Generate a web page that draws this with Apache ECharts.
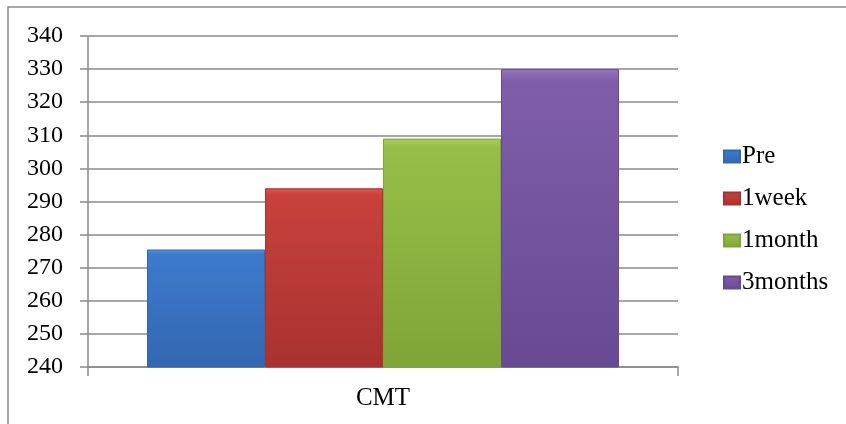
<!DOCTYPE html>
<html>
<head>
<meta charset="utf-8">
<script src="https://cdn.jsdelivr.net/npm/echarts@6/dist/echarts.min.js"></script>
<style>
  html, body { margin: 0; padding: 0; background: #fff; }
  #chart { width: 846px; height: 424px; }
</style>
</head>
<body>
<div id="chart"></div>
<script>
// data
const categories = ['CMT'];
const seriesNames = ['Pre', '1week', '1month', '3months'];
const preValues = [275.5];
const weekValues = [294];
const monthValues = [309];
const threeMonthValues = [330];
const yTicks = { min: 240, max: 340, step: 10 };

const allValues = [preValues, weekValues, monthValues, threeMonthValues];
// main colour, light edge, dark edge
const palette = [
  ['#3d7ace', '#5b93dc', '#3367b0'],
  ['#c9413d', '#dc5451', '#a8322f'],
  ['#97be48', '#aacd5a', '#80a437'],
  ['#7f5dab', '#9676c0', '#674a91'],
];
const font = '"Liberation Serif", "Times New Roman", serif';

const chart = echarts.init(document.getElementById('chart'));

const series = seriesNames.map((name, i) => ({
  name: name,
  type: 'bar',
  barGap: '0%',
  barCategoryGap: '20%',
  itemStyle: {
    color: new echarts.graphic.LinearGradient(0, 0, 0, 1, [
      { offset: 0, color: palette[i][1] },
      { offset: 0.04, color: palette[i][0] },
      { offset: 1, color: palette[i][2] },
    ]),
    borderColor: palette[i][2],
    borderWidth: 1,
  },
  data: allValues[i],
}));

const option = {
  animation: false,
  textStyle: { fontFamily: font },
  graphic: [
    {
      type: 'rect',
      shape: { x: 8, y: 7, width: 900, height: 600 },
      style: { fill: 'none', stroke: '#8a8a8a', lineWidth: 1.5 },
      silent: true,
    },
  ],
  legend: {
    orient: 'vertical',
    left: 718,
    top: 139,
    itemWidth: 16,
    itemHeight: 12,
    itemGap: 17,
    icon: 'rect',
    textStyle: {
      fontFamily: font,
      fontSize: 25,
      color: '#000',
      lineHeight: 25,
      padding: [0, 0, 0, -3],
    },
    data: seriesNames,
  },
  grid: {
    left: 88,
    right: 168,
    top: 36,
    bottom: 57,
    containLabel: false,
  },
  xAxis: {
    type: 'category',
    data: categories,
    axisLine: { show: true, lineStyle: { color: '#8a8a8a', width: 1.5 } },
    axisTick: { show: true, length: 9, lineStyle: { color: '#8a8a8a', width: 1.5 } },
    axisLabel: {
      fontFamily: font,
      fontSize: 25,
      color: '#000',
      margin: 19,
    },
    splitLine: { show: false },
  },
  yAxis: {
    type: 'value',
    min: yTicks.min,
    max: yTicks.max,
    interval: yTicks.step,
    axisLine: { show: true, lineStyle: { color: '#8a8a8a', width: 1.5 } },
    axisTick: { show: true, length: 8, lineStyle: { color: '#8a8a8a', width: 1.5 } },
    axisLabel: {
      fontFamily: font,
      fontSize: 24,
      color: '#000',
      margin: 25,
    },
    splitLine: { show: true, lineStyle: { color: '#8a8a8a', width: 1.5 } },
  },
  series: series,
};

chart.setOption(option);
</script>
</body>
</html>
